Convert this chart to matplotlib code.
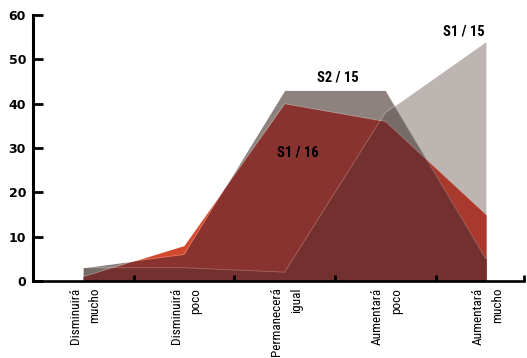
import numpy as np
import matplotlib
matplotlib.use("Agg")
import matplotlib.pyplot as plt

categories = ["Disminuirá\nmucho", "Disminuirá\npoco", "Permanecerá\nigual",
              "Aumentará\npoco", "Aumentará\nmucho"]
s1_15 = [3, 3, 2, 38, 54]    # light gray
s2_15 = [3, 6, 43, 43, 5]    # dark gray
s1_16 = [1, 8, 40, 36, 15]   # red
y_ticks = [0, 10, 20, 30, 40, 50, 60]

# colours of each overlap, as in the original (multiply-like look)
C_LG = "#bdb5b1"
C_DG = "#8e827e"
C_DG_LG = "#756c69"
C_R = "#d24a2e"
C_R_LG = "#a9392d"
C_R_DG = "#88332f"
C_ALL = "#72302f"

COND = ["Roboto Condensed", "DejaVu Sans"]


def lower(xa, ya, xb, yb):
    """pointwise minimum of two polylines, crossing points included"""
    xs = np.union1d(xa, xb)
    a = np.interp(xs, xa, ya)
    b = np.interp(xs, xb, yb)
    ox, oy = [], []
    for i in range(len(xs)):
        ox.append(xs[i])
        oy.append(min(a[i], b[i]))
        if i + 1 < len(xs):
            d0, d1 = a[i] - b[i], a[i + 1] - b[i + 1]
            if d0 * d1 < 0:
                t = d0 / (d0 - d1)
                ox.append(xs[i] + t * (xs[i + 1] - xs[i]))
                oy.append(a[i] + t * (a[i + 1] - a[i]))
    return np.array(ox), np.array(oy)


x = np.arange(len(categories), dtype=float)
lg = np.array(s1_15, float)
dg = np.array(s2_15, float)
rd = np.array(s1_16, float)

fig = plt.figure(figsize=(5.27, 3.58), dpi=100)
ax = fig.add_axes([0.0626, 0.215, 0.932, 0.743])

ax.fill_between(x, 0, lg, color=C_LG, lw=0)
ax.fill_between(x, 0, dg, color=C_DG, lw=0)
ex, ey = lower(x, dg, x, lg)
ax.fill_between(ex, 0, ey, color=C_DG_LG, lw=0)
ax.fill_between(x, 0, rd, color=C_R, lw=0)
ex, ey = lower(x, rd, x, lg)
ax.fill_between(ex, 0, ey, color=C_R_LG, lw=0)
ex, ey = lower(x, rd, x, dg)
ax.fill_between(ex, 0, ey, color=C_R_DG, lw=0)
mx, my = lower(x, dg, x, lg)
ex, ey = lower(x, rd, mx, my)
ax.fill_between(ex, 0, ey, color=C_ALL, lw=0)

# faint light edges of each area
for s in (lg, dg, rd):
    ax.plot(x, s, color="white", alpha=0.25, lw=0.6)

ax.set_xlim(-0.5, 4.38)
ax.set_ylim(0, 60)
ax.set_yticks(y_ticks)
ax.set_yticklabels([str(v) for v in y_ticks], fontweight="bold", fontsize=9,
                   family=["DejaVu Sans"])
ax.set_xticks([0.5, 1.5, 2.5, 3.5, 4.38])
ax.set_xticklabels([])
ax.tick_params(axis="y", direction="in", length=7.5, width=2, pad=5)
ax.tick_params(axis="x", direction="in", length=4, width=2)

for sp in ("top", "right"):
    ax.spines[sp].set_visible(False)
ax.spines["left"].set_linewidth(2.2)
ax.spines["bottom"].set_linewidth(1.9)
ax.spines["left"].set_zorder(5)
ax.spines["bottom"].set_zorder(5)

for i, lab in enumerate(categories):
    ax.text(x[i] + 0.02, -1.5, lab, rotation=90, ha="center", va="top",
            multialignment="right", fontsize=9.5, linespacing=1.65,
            family=COND)

lab_kw = dict(ha="center", va="center", fontsize=10.5, fontweight="bold",
              family=COND)
ax.text(2.53, 46.0, "S2 / 15", **lab_kw)
ax.text(3.78, 56.2, "S1 / 15", **lab_kw)
ax.text(2.13, 28.9, "S1 / 16", **lab_kw)

fig.savefig("out.png", dpi=100)
